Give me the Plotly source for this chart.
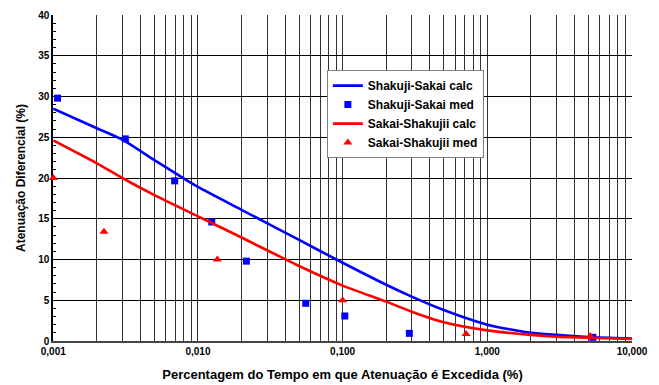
import plotly.graph_objects as go

# Percentage of time the attenuation is exceeded (%)
calc_x = [0.001, 0.002, 0.003, 0.005, 0.01, 0.02, 0.05, 0.1, 0.2, 0.3, 0.5, 1, 2, 3, 5, 10]
# Calculated differential attenuation (%)
shakuji_sakai_calc = [28.5, 26.1, 24.7, 22.2, 18.9, 16.1, 12.4, 9.6, 6.9, 5.45, 3.8, 2.0, 1.0, 0.75, 0.5, 0.3]
sakai_shakuji_calc = [24.6, 21.8, 20.0, 17.9, 15.3, 12.7, 9.2, 6.8, 4.83, 3.6, 2.3, 1.3, 0.75, 0.53, 0.4, 0.25]

# Measured values
shakuji_sakai_med_x = [0.00107, 0.00315, 0.0069, 0.01245, 0.0216, 0.0556, 0.1035, 0.289, 5.36]
shakuji_sakai_med_y = [29.8, 24.8, 19.65, 14.6, 9.8, 4.63, 3.07, 0.94, 0.45]
sakai_shakuji_med_x = [0.001, 0.00224, 0.0136, 0.1, 0.713, 5.14]
sakai_shakuji_med_y = [20.0, 13.4, 10.0, 5.0, 0.86, 0.6]

# Axis ticks
decades = [0.001, 0.01, 0.1, 1, 10]
decade_labels = ["0,001", "0,010", "0,100", "1,000", "10,000"]
y_ticks = [0, 5, 10, 15, 20, 25, 30, 35, 40]
y_grid = [5, 10, 15, 20, 25, 30, 35]

x_grid = []
x_text = []
for i, d in enumerate(decades[:-1]):
    for m in range(1, 10):
        x_grid.append(d * m)
        x_text.append(f"<b>{decade_labels[i]}</b>" if m == 1 else "")
x_grid.append(decades[-1])
x_text.append(f"<b>{decade_labels[-1]}</b>")

BLUE = "#0000FF"
RED = "#FF0000"
FONT = "Liberation Sans"

fig = go.Figure()
fig.add_trace(go.Scatter(x=calc_x, y=shakuji_sakai_calc, mode="lines",
                         line=dict(color=BLUE, width=2.6, shape="spline", smoothing=0.6),
                         name="<b>Shakuji-Sakai calc</b>"))
fig.add_trace(go.Scatter(x=shakuji_sakai_med_x, y=shakuji_sakai_med_y, mode="markers",
                         marker=dict(color=BLUE, symbol="square", size=7),
                         cliponaxis=False, name="<b>Shakuji-Sakai med</b>"))
fig.add_trace(go.Scatter(x=calc_x, y=sakai_shakuji_calc, mode="lines",
                         line=dict(color=RED, width=2.6, shape="spline", smoothing=0.6),
                         name="<b>Sakai-Shakujii calc</b>"))
fig.add_trace(go.Scatter(x=sakai_shakuji_med_x, y=sakai_shakuji_med_y, mode="markers",
                         marker=dict(color=RED, symbol="triangle-up", size=8),
                         cliponaxis=False, name="<b>Sakai-Shakujii med</b>"))
# helper trace so the grid-only overlay axis is drawn
fig.add_trace(go.Scatter(x=[0.001], y=[0], yaxis="y2", mode="markers",
                         marker=dict(opacity=0), showlegend=False, hoverinfo="skip"))

fig.update_layout(
    width=659, height=385,
    margin=dict(l=53, r=27, t=15, b=44),
    paper_bgcolor="white", plot_bgcolor="white",
    font=dict(family=FONT, size=10, color="black"),
    showlegend=True,
    legend=dict(x=0.473, y=0.831, xanchor="left", yanchor="top",
                bgcolor="white", bordercolor="#808080", borderwidth=1,
                font=dict(family=FONT, size=12, color="black"),
                itemwidth=30, tracegroupgap=0),
    xaxis=dict(type="log", range=[-3.002, 1], tickmode="array",
               tickvals=x_grid, ticktext=x_text, ticks="",
               tickfont=dict(family=FONT, size=10, color="black"),
               showgrid=True, gridcolor="#333333", gridwidth=1,
               showline=True, linecolor="#444444", linewidth=2,
               zeroline=False, automargin=False, layer="below traces",
               title=dict(text="<b>Percentagem do Tempo em que Atenuação é Excedida (%)</b>",
                          font=dict(family=FONT, size=13, color="black"), standoff=14)),
    yaxis=dict(range=[0, 40], tickmode="array", tickvals=y_ticks,
               ticktext=[f"<b>{v}</b>" for v in y_ticks],
               ticks="inside", ticklen=4, tickcolor="black",
               minor=dict(dtick=1, ticks="inside", ticklen=3, tickcolor="black", showgrid=False),
               showgrid=False, zeroline=False, automargin=False, layer="below traces",
               showline=True, linecolor="black", linewidth=1.5,
               tickfont=dict(family=FONT, size=10, color="black"),
               title=dict(text="<b>Atenuação Diferencial (%)</b>",
                          font=dict(family=FONT, size=12, color="black"), standoff=10)),
    yaxis2=dict(range=[0, 40], overlaying="y", tickmode="array", tickvals=y_grid,
                showticklabels=False, ticks="", showgrid=True, automargin=False,
                layer="below traces",
                gridcolor="black", gridwidth=1, zeroline=False, showline=False),
)

fig.write_html("out.html")
